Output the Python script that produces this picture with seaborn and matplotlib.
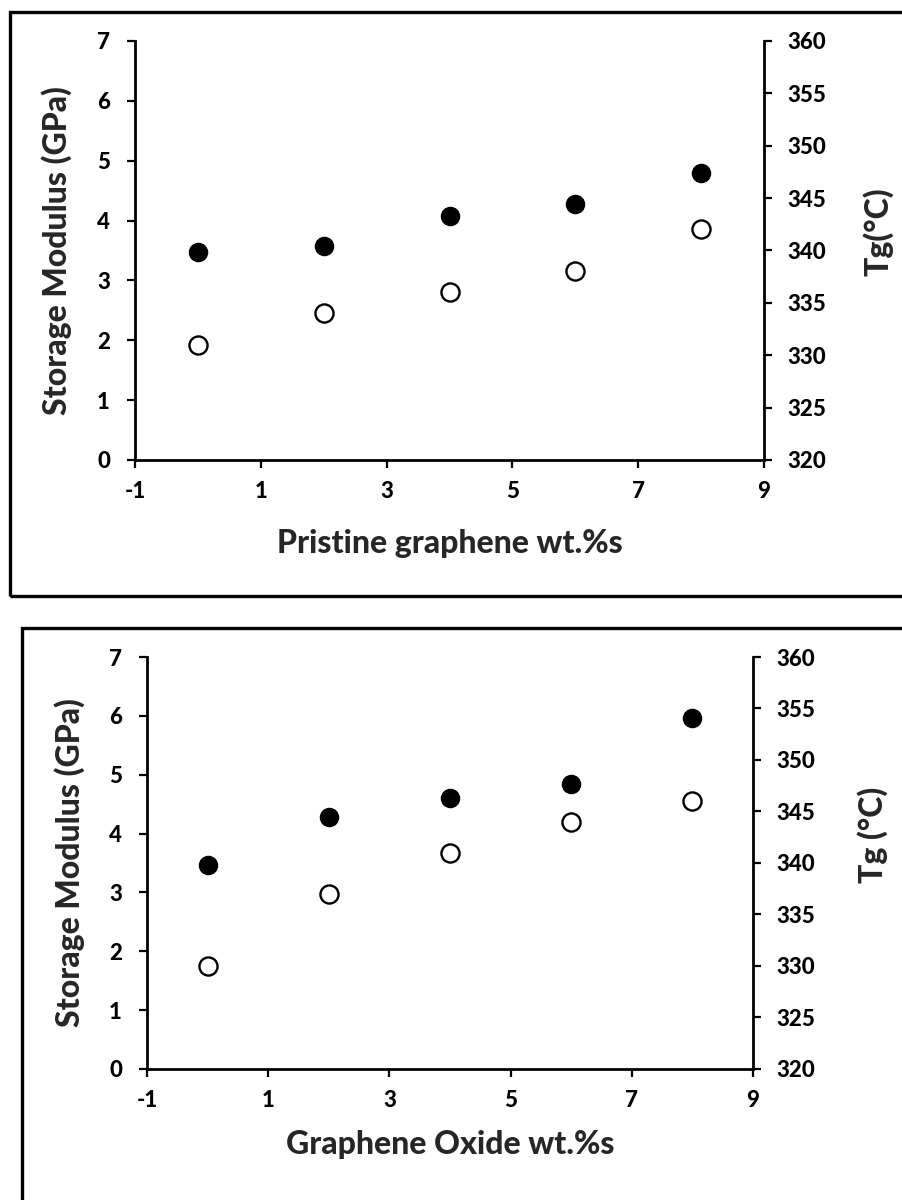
import matplotlib
matplotlib.use("Agg")
import matplotlib.pyplot as plt
from matplotlib.patches import Rectangle
import seaborn as sns
import pandas as pd

# Filler loadings (wt.%)
loading = [0, 2, 4, 6, 8]

# Pristine graphene composites
pg_modulus = [3.47, 3.58, 4.07, 4.27, 4.80]   # GPa
pg_tg = [331, 334, 336, 338, 342]             # deg C

# Graphene oxide composites
go_modulus = [3.46, 4.28, 4.60, 4.85, 5.97]   # GPa
go_tg = [330, 337, 341, 344, 346]             # deg C

sns.set_theme(style="white")
plt.rcParams["font.family"] = ["Lato", "DejaVu Sans"]
plt.rcParams["axes.unicode_minus"] = False

fig = plt.figure(figsize=(9.03, 12.0), dpi=100)

TICK_FS = 16
LABEL_FS = 23
WEIGHT = "black"


def panel(rect, modulus, tg, xlabel, tglabel, ylab_x, tglab_xy, xlab_y):
    ax = fig.add_axes(rect)
    df = pd.DataFrame({"x": loading, "E": modulus, "Tg": tg})
    sns.scatterplot(data=df, x="x", y="E", ax=ax, s=170, color="black",
                    edgecolor="black", linewidth=1.0, zorder=3, legend=False)
    ax.set_xlim(-1, 9)
    ax.set_ylim(0, 7)
    ax.set_xticks([-1, 1, 3, 5, 7, 9])
    ax.set_yticks(range(0, 8))

    ax2 = ax.twinx()
    sns.scatterplot(data=df, x="x", y="Tg", ax=ax2, s=170, facecolor="white",
                    edgecolor="black", linewidth=1.7, zorder=3, legend=False)
    ax2.set_ylim(320, 360)
    ax2.set_yticks(range(320, 361, 5))
    ax2.set_xlim(-1, 9)

    for a in (ax, ax2):
        a.set_facecolor("none")
        for side in ("left", "right", "bottom"):
            a.spines[side].set_linewidth(2.0)
            a.spines[side].set_color("black")
        a.spines["top"].set_visible(False)
    ax.spines["right"].set_visible(False)
    ax2.spines["left"].set_visible(False)
    ax2.spines["bottom"].set_visible(False)

    ax.tick_params(axis="y", direction="out", length=6, width=1.6,
                   pad=12, labelsize=TICK_FS, left=True, colors="black")
    ax.tick_params(axis="x", direction="out", length=6, width=1.6,
                   pad=9, labelsize=TICK_FS, bottom=True, colors="black")
    ax2.tick_params(axis="y", direction="out", length=6, width=1.6,
                    pad=11, labelsize=TICK_FS, right=True, colors="black")
    for lab in ax.get_xticklabels() + ax.get_yticklabels() + ax2.get_yticklabels():
        lab.set_fontweight(WEIGHT)

    ax.set_xlabel(xlabel, fontsize=LABEL_FS, fontweight=WEIGHT)
    ax.xaxis.label.set_va("center")
    ax.xaxis.set_label_coords(0.5, xlab_y)
    ax.set_ylabel("Storage Modulus (GPa)", fontsize=LABEL_FS, fontweight=WEIGHT)
    ax.yaxis.label.set_va("center")
    ax.yaxis.set_label_coords(ylab_x, 0.5)
    ax2.set_ylabel(tglabel, fontsize=LABEL_FS, fontweight=WEIGHT)
    ax2.yaxis.label.set_va("center")
    ax2.yaxis.set_label_coords(*tglab_xy)
    return ax, ax2


panel([0.1495, 0.6167, 0.6966, 0.3492], pg_modulus, pg_tg,
      "Pristine graphene wt.%s", "Tg(°C)", -0.124, (1.181, 0.544), -0.20)
panel([0.1628, 0.1092, 0.6711, 0.3433], go_modulus, go_tg,
      "Graphene Oxide wt.%s", "Tg (°C)", -0.127, (1.198, 0.568), -0.184)

# Frames around each panel
fig.add_artist(Rectangle((0.0111, 0.5033), 1.2, 0.4867, transform=fig.transFigure,
                         fill=False, edgecolor="black", linewidth=2.4, clip_on=False))
fig.add_artist(Rectangle((0.0244, -0.2), 1.2, 0.6767, transform=fig.transFigure,
                         fill=False, edgecolor="black", linewidth=2.4, clip_on=False))

fig.savefig("out.png", dpi=100, facecolor="white")
